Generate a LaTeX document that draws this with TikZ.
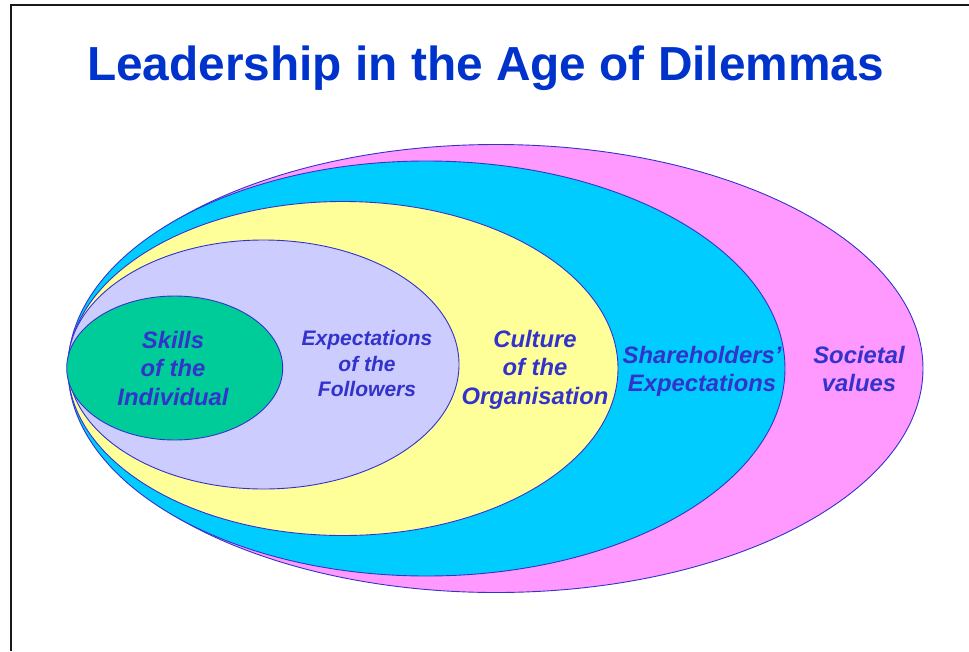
\documentclass[tikz,border=0pt]{standalone}
\usepackage{fontspec}
\setmainfont{Liberation Sans}
\definecolor{titleblue}{HTML}{0033CC}
\definecolor{labelblue}{HTML}{3333CC}
\definecolor{rimblue}{HTML}{3333CC}
\definecolor{societal}{HTML}{FF99FF}
\definecolor{sharehold}{HTML}{00CCFF}
\definecolor{culture}{HTML}{FFFF99}
\definecolor{followers}{HTML}{CCCCFF}
\definecolor{skills}{HTML}{00CC99}
\begin{document}
\begin{tikzpicture}[x=1pt,y=-1pt,
  ring/.style={draw=rimblue,line width=0.9pt},
  biglabel/.style={text=labelblue,align=center,inner sep=0pt,
    font=\fontsize{23.8}{28.5}\selectfont\bfseries\itshape},
  smalllabel/.style={text=labelblue,align=center,inner sep=0pt,
    font=\fontsize{21}{25.5}\selectfont\bfseries\itshape},
  framerule/.style={draw=black!90,line width=2pt}]
\useasboundingbox (0,0) rectangle (969,651);

% slide frame (only its top and left edges are in view)
\coordinate (frameTL) at (11,5);
\coordinate (frameTR) at (969,5);
\coordinate (frameBL) at (11,651);
\draw[framerule] (frameBL) -- (frameTL) -- (frameTR);

% title
\node[anchor=base,text=titleblue,inner sep=0pt,
  font=\fontsize{47.8}{55}\selectfont\bfseries] (title) at (485.5,80)
  {Leadership in the Age of Dilemmas};

% nested circles of influence, outermost first
\fill[societal]  (496,368.5)   ellipse [x radius=427,  y radius=224];
\draw[ring]      (496,368.5)   ellipse [x radius=427,  y radius=224];
\fill[sharehold] (426.5,368.5) ellipse [x radius=358.5,y radius=207.5];
\draw[ring]      (426.5,368.5) ellipse [x radius=358.5,y radius=207.5];
\fill[culture]   (343,368.5)   ellipse [x radius=275,  y radius=167];
\draw[ring]      (343,368.5)   ellipse [x radius=275,  y radius=167];
\fill[followers] (263.5,364.5) ellipse [x radius=195.5,y radius=124.5];
\draw[ring]      (263.5,364.5) ellipse [x radius=195.5,y radius=124.5];
\fill[skills]    (174.7,368)   ellipse [x radius=108,  y radius=72];
\draw[ring]      (174.7,368)   ellipse [x radius=108,  y radius=72];

% ring labels
\node[biglabel]   (lblSkills)    at (173,368.3) {Skills\\of the\\Individual};
\node[smalllabel] (lblFollowers) at (367,363.5) {Expectations\\of the\\Followers};
\node[biglabel]   (lblCulture)   at (535,369.8) {Culture\\of the\\Organisation};
\node[biglabel]   (lblShare)     at (702,371.3) {Shareholders’\\Expectations};
\node[biglabel]   (lblSociety)   at (859,368.8) {Societal\\values};
\end{tikzpicture}
\end{document}
